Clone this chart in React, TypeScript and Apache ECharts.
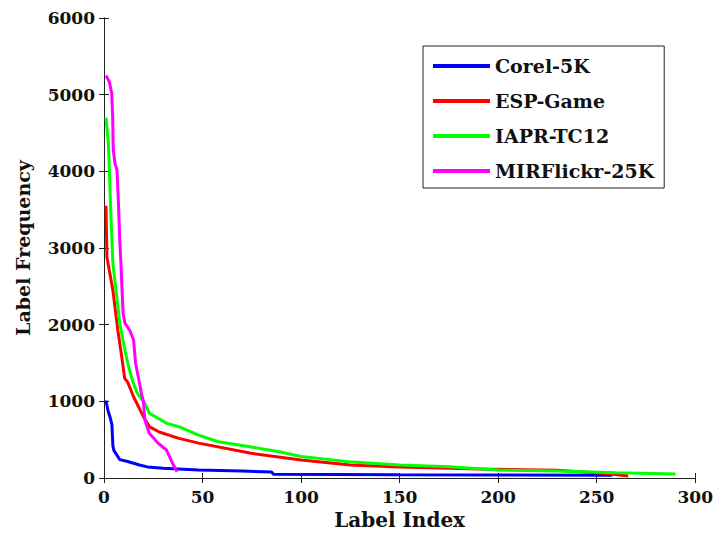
import React, { useEffect, useRef } from "react";
import * as echarts from "echarts";

const seriesNames = ["Corel-5K", "ESP-Game", "IAPR-TC12", "MIRFlickr-25K"];
const seriesColors = ["#0000ff", "#ff0000", "#00ff00", "#ff00ff"];

const xTicks = [0, 50, 100, 150, 200, 250, 300];
const yTicks = [0, 1000, 2000, 3000, 4000, 5000, 6000];

const corel5k: [number, number][] = [
  [1, 1010], [2, 880], [3, 800], [4, 700], [4.5, 420], [5, 360], [6.5, 300],
  [8, 240], [12, 215], [18, 170], [22, 145], [30, 128], [48, 103], [70, 90],
  [85, 78], [86, 48], [150, 42], [200, 40], [258, 35],
];

const espGame: [number, number][] = [
  [1, 3550], [1.5, 2880], [4.5, 2450], [7, 1930], [9, 1580], [10.5, 1300],
  [12, 1250], [15, 1060], [20, 800], [23, 670], [28, 600], [38, 517],
  [48, 455], [74, 325], [100, 235], [110, 210], [125, 170], [150, 145],
  [190, 117], [230, 100], [255, 60], [266, 25],
];

const iaprTc12: [number, number][] = [
  [1, 4700], [2.2, 4370], [2.5, 4190], [3.4, 3490], [4.5, 2800], [6.5, 2360],
  [8, 2020], [9.6, 1800], [12, 1500], [14.7, 1250], [17, 1100], [20.7, 975],
  [23, 845], [32, 713], [38, 669], [48, 560], [58, 473], [74, 408],
  [89, 343], [100, 280], [109, 256], [124, 213], [150, 170], [175, 147],
  [200, 104], [230, 90], [260, 70], [290, 52],
];

const mirFlickr25k: [number, number][] = [
  [1, 5250], [2.7, 5170], [3.9, 5020], [4.4, 4710], [4.7, 4280], [5.6, 4100],
  [6.6, 4015], [7.4, 3540], [8, 3100], [8.6, 2800], [9, 2540], [9.7, 2150],
  [10.6, 2020], [13, 1930], [15, 1800], [16, 1500], [18, 1240], [19, 1100],
  [20, 1000], [20.7, 760], [23, 585], [27.4, 455], [31.7, 365], [34, 235],
  [37, 80],
];

const seriesData = [corel5k, espGame, iaprTc12, mirFlickr25k];

const FONT = "DejaVu Serif";

export default function App() {
  const ref = useRef<HTMLDivElement>(null);
  useEffect(() => {
    if (!ref.current) return;
    const chart = echarts.init(ref.current, undefined, { renderer: "svg" });
    const axisLine = { show: true, lineStyle: { color: "#222", width: 1 } };
    const tick = { show: true, inside: true, length: 5, lineStyle: { color: "#222" } };
    const labelStyle = { fontFamily: FONT, fontWeight: "bold" as const, fontSize: 17, color: "#111" };
    chart.setOption({
      animation: false,
      backgroundColor: "#fff",
      grid: { left: 104, right: 18, top: 18, bottom: 64, containLabel: false },
      legend: {
        orient: "vertical",
        left: 423,
        top: 46,
        padding: [10, 10, 7, 10],
        itemWidth: 57,
        itemHeight: 4,
        itemGap: 15,
        itemTextGap: 8,
        icon: "rect",
        backgroundColor: "#fff",
        borderColor: "#222",
        borderWidth: 1,
        borderRadius: 0,
        data: seriesNames,
        textStyle: { fontFamily: FONT, fontWeight: "bold", fontSize: 19, color: "#111", lineHeight: 20 },
      },
      xAxis: [
        {
          type: "value",
          min: 0,
          max: 300,
          interval: 50,
          name: "Label Index",
          nameLocation: "middle",
          nameGap: 32,
          nameTextStyle: { fontFamily: FONT, fontWeight: "bold", fontSize: 20, color: "#111" },
          axisLine,
          axisTick: tick,
          axisLabel: { ...labelStyle, margin: 10, formatter: (v: number) => (xTicks.includes(v) ? String(v) : "") },
          splitLine: { show: false },
        },
        {
          type: "value",
          position: "top",
          min: 0,
          max: 300,
          interval: 50,
          axisLine,
          axisTick: tick,
          axisLabel: { show: false },
          splitLine: { show: false },
        },
      ],
      yAxis: [
        {
          type: "value",
          min: 0,
          max: 6000,
          interval: 1000,
          name: "Label Frequency",
          nameLocation: "middle",
          nameGap: 72,
          nameTextStyle: { fontFamily: FONT, fontWeight: "bold", fontSize: 19, color: "#111" },
          axisLine,
          axisTick: tick,
          axisLabel: { ...labelStyle, margin: 9, formatter: (v: number) => (yTicks.includes(v) ? String(v) : "") },
          splitLine: { show: false },
        },
        {
          type: "value",
          position: "right",
          min: 0,
          max: 6000,
          interval: 1000,
          axisLine,
          axisTick: tick,
          axisLabel: { show: false },
          splitLine: { show: false },
        },
      ],
      series: seriesNames.map((name, i) => ({
        name,
        type: "line",
        xAxisIndex: 0,
        yAxisIndex: 0,
        data: seriesData[i],
        symbol: "none",
        color: seriesColors[i],
        lineStyle: { color: seriesColors[i], width: 3 },
      })),
    });
    return () => chart.dispose();
  }, []);
  return <div ref={ref} style={{ width: 716, height: 542, position: "absolute", left: 0, top: 0 }} />;
}
